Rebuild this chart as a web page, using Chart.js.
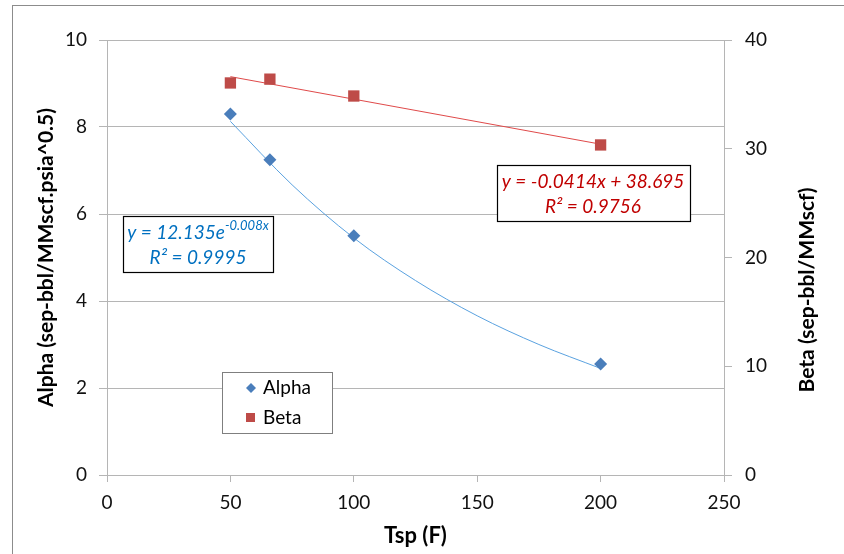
<!DOCTYPE html>
<html>
<head>
<meta charset="utf-8">
<script src="https://cdn.jsdelivr.net/npm/chart.js@4/dist/chart.umd.min.js"></script>
<style>
  body { margin: 0; background: #fff; }
  #wrap { width: 844px; height: 554px; }
</style>
</head>
<body>
<div id="wrap"><canvas id="myChart" width="844" height="554"></canvas></div>
<script>
var tsp = [50, 66, 100, 200];
var alphaVals = [8.3, 7.25, 5.5, 2.55];
var betaVals = [36.05, 36.4, 34.85, 30.35];

// trendlines
var alphaTrendX = [50, 75, 100, 125, 150, 175, 200];
var alphaTrendY = [8.13, 6.67, 5.45, 4.47, 3.66, 3.0, 2.45];
var betaTrendX = [50, 200];
var betaTrendY = [36.63, 30.42];

var alphaColor = "#4a7ebb";
var betaColor = "#be4b48";
var gridColor = "#b5b5b5";

function pts(xs, ys) {
  var out = [];
  for (var i = 0; i < xs.length; i++) out.push({x: xs[i], y: ys[i]});
  return out;
}

var extras = {
  id: "extras",
  beforeDraw: function(chart) {
    var ctx = chart.ctx;
    ctx.save();
    ctx.fillStyle = "#fff";
    ctx.fillRect(0, 0, chart.width, chart.height);
    ctx.strokeStyle = "#8c8c8c";
    ctx.lineWidth = 1;
    ctx.strokeRect(12.5, 5.5, 900, 700);
    ctx.restore();
  },
  afterDraw: function(chart) {
    var ctx = chart.ctx;
    ctx.save();

    // right axis title, reading upward
    ctx.translate(807, 290);
    ctx.rotate(-Math.PI / 2);
    ctx.font = "bold 21px Lato";
    ctx.fillStyle = "#000";
    ctx.textAlign = "center";
    ctx.textBaseline = "middle";
    ctx.fillText("Beta (sep-bbl/MMscf)", 0, 0);
    ctx.setTransform(1, 0, 0, 1, 0, 0);

    // blue equation box
    ctx.fillStyle = "#fff";
    ctx.fillRect(123, 216, 150, 56);
    ctx.strokeStyle = "#000";
    ctx.lineWidth = 1.2;
    ctx.strokeRect(123.5, 216.5, 150, 56);
    ctx.fillStyle = "#0070c0";
    ctx.textBaseline = "middle";
    ctx.textAlign = "left";
    ctx.font = "italic 19px Lato";
    var s1 = "y = 12.135e";
    var w1 = ctx.measureText(s1).width;
    ctx.font = "italic 13px Lato";
    var w2 = ctx.measureText("-0.008x").width;
    var x0 = 198 - (w1 + w2) / 2;
    ctx.font = "italic 19px Lato";
    ctx.fillText(s1, x0, 233);
    ctx.font = "italic 13px Lato";
    ctx.fillText("-0.008x", x0 + w1, 226);
    ctx.font = "italic 19px Lato";
    ctx.textAlign = "center";
    ctx.fillText("R\u00b2 = 0.9995", 198, 258);

    // red equation box
    ctx.fillStyle = "#fff";
    ctx.fillRect(497, 165, 193, 56);
    ctx.strokeRect(497.5, 165.5, 193, 56);
    ctx.fillStyle = "#c00000";
    ctx.fillText("y = -0.0414x + 38.695", 593, 182);
    ctx.fillText("R\u00b2 = 0.9756", 593, 207);

    // legend
    ctx.fillStyle = "#fff";
    ctx.fillRect(222, 372, 110, 61);
    ctx.strokeStyle = "#7f7f7f";
    ctx.lineWidth = 1;
    ctx.strokeRect(222.5, 372.5, 110, 61);
    ctx.fillStyle = alphaColor;
    ctx.beginPath();
    ctx.moveTo(251, 383); ctx.lineTo(256, 388); ctx.lineTo(251, 393); ctx.lineTo(246, 388);
    ctx.closePath(); ctx.fill();
    ctx.fillStyle = betaColor;
    ctx.fillRect(246, 413, 9, 9);
    ctx.fillStyle = "#000";
    ctx.textAlign = "left";
    ctx.font = "19px Lato";
    ctx.fillText("Alpha", 263, 388);
    ctx.fillText("Beta", 263, 418);
    ctx.restore();
  }
};

new Chart("myChart", {
  type: "scatter",
  data: {
    datasets: [
      {
        label: "Alpha",
        data: pts(tsp, alphaVals),
        yAxisID: "y",
        pointStyle: "rectRot",
        pointRadius: 6.5,
        backgroundColor: alphaColor,
        borderColor: alphaColor,
        borderWidth: 0,
        order: 0
      },
      {
        label: "Beta",
        data: pts(tsp, betaVals),
        yAxisID: "yR",
        pointStyle: "rect",
        pointRadius: 8,
        backgroundColor: betaColor,
        borderColor: betaColor,
        borderWidth: 0,
        order: 0
      },
      {
        label: "Alpha trend",
        data: pts(alphaTrendX, alphaTrendY),
        yAxisID: "y",
        showLine: true,
        pointRadius: 0,
        borderColor: "#5aa2e0",
        borderWidth: 1,
        cubicInterpolationMode: "monotone",
        order: 1
      },
      {
        label: "Beta trend",
        data: pts(betaTrendX, betaTrendY),
        yAxisID: "yR",
        showLine: true,
        pointRadius: 0,
        borderColor: "#e04a4a",
        borderWidth: 1,
        order: 1
      }
    ]
  },
  options: {
    responsive: false,
    animation: false,
    layout: { padding: { top: 40, left: 0, right: 0, bottom: 0 } },
    plugins: {
      legend: { display: false },
      tooltip: { enabled: false }
    },
    scales: {
      x: {
        type: "linear",
        min: 0, max: 250,
        ticks: { stepSize: 50, padding: 9, color: "#111", font: { family: "Lato", size: 19 } },
        grid: { drawOnChartArea: false, color: gridColor, tickLength: 7 },
        border: { color: gridColor },
        title: { display: true, text: "Tsp (F)", color: "#000", font: { family: "Lato", size: 22, weight: "bold" }, padding: { bottom: 5 } },
        afterFit: function(s) { s.height = 79; }
      },
      y: {
        position: "left",
        min: 0, max: 10,
        ticks: { stepSize: 2, padding: 12, color: "#111", font: { family: "Lato", size: 19 } },
        grid: { color: gridColor, tickLength: 8 },
        border: { color: gridColor },
        title: { display: true, text: "Alpha (sep-bbl/MMscf.psia^0.5)", color: "#000", font: { family: "Lato", size: 21, weight: "bold" }, padding: { top: 34 } },
        afterFit: function(s) { s.width = 107; }
      },
      yR: {
        position: "right",
        min: 0, max: 40,
        ticks: { stepSize: 10, padding: 13, color: "#111", font: { family: "Lato", size: 19 } },
        grid: { drawOnChartArea: false, color: gridColor, tickLength: 8 },
        border: { color: gridColor },
        afterFit: function(s) { s.width = 120; }
      }
    }
  },
  plugins: [extras]
});
</script>
</body>
</html>
